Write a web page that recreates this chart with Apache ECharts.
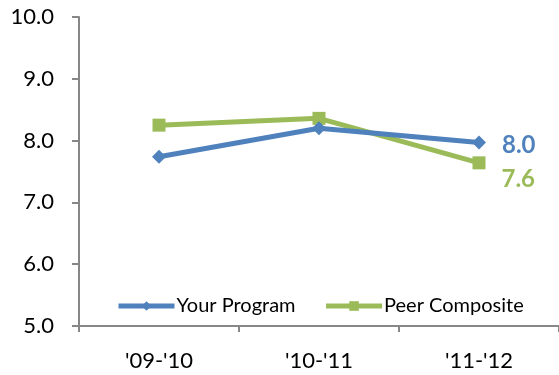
<!DOCTYPE html>
<html>
<head>
<meta charset="utf-8">
<script src="https://cdn.jsdelivr.net/npm/echarts@6/dist/echarts.min.js"></script>
<style>
  html, body { margin: 0; padding: 0; background: #fff; }
  #chart { width: 559px; height: 375px; }
</style>
</head>
<body>
<div id="chart"></div>
<script>
// School years shown along the x axis
const years = ["'09-'10", "'10-'11", "'11-'12"];
// Scores per year
const yourProgram = [7.74, 8.2, 7.97];
const peerComposite = [8.25, 8.36, 7.64];
// Y axis range and step
const yMin = 5, yMax = 10, yStep = 1;

const BLUE = '#4F81BD';
const GREEN = '#9BBB59';
const AXIS = '#878787';
const FONT = 'Lato, "Open Sans", sans-serif';

// Show a value label only on the final point of each series
function lastLabel(color, offset) {
  return {
    show: true,
    position: 'right',
    distance: 8,
    offset: offset,
    fontFamily: FONT,
    fontWeight: 'bold',
    fontSize: 24,
    color: color,
    formatter: p => p.dataIndex === years.length - 1 ? p.value.toFixed(1) : ''
  };
}

const chart = echarts.init(document.getElementById('chart'));
chart.setOption({
  animation: false,
  grid: { left: 79, right: 0, top: 17, bottom: 49 },
  legend: {
    left: 111, top: 291,
    itemWidth: 56, itemHeight: 12, itemGap: 28,
    lineStyle: { width: 5 },
    textStyle: { fontFamily: FONT, fontSize: 20, color: '#000', padding: [0, 0, 0, -3] },
    data: ['Your Program', 'Peer Composite']
  },
  xAxis: {
    type: 'category',
    data: years,
    boundaryGap: true,
    axisLine: { lineStyle: { color: AXIS, width: 2 } },
    axisTick: { show: true, length: 6, lineStyle: { color: AXIS, width: 2 } },
    axisLabel: { fontFamily: FONT, fontSize: 22, color: '#000', margin: 24 }
  },
  yAxis: {
    type: 'value',
    min: yMin, max: yMax, interval: yStep,
    axisLine: { show: true, lineStyle: { color: AXIS, width: 2 } },
    axisTick: { show: true, length: 7, lineStyle: { color: AXIS, width: 2 } },
    splitLine: { show: false },
    axisLabel: {
      fontFamily: FONT, fontSize: 22, color: '#000', margin: 25,
      formatter: v => v.toFixed(1)
    }
  },
  series: [
    {
      name: 'Your Program',
      type: 'line',
      data: yourProgram,
      symbol: 'diamond',
      symbolSize: 14,
      color: BLUE,
      lineStyle: { width: 5, color: BLUE },
      itemStyle: { color: BLUE },
      label: lastLabel(BLUE, [8, 3]),
      z: 3
    },
    {
      name: 'Peer Composite',
      type: 'line',
      data: peerComposite,
      symbol: 'rect',
      symbolSize: 13,
      color: GREEN,
      lineStyle: { width: 5, color: GREEN },
      itemStyle: { color: GREEN },
      label: lastLabel(GREEN, [8, 16]),
      z: 2
    }
  ]
});
</script>
</body>
</html>
